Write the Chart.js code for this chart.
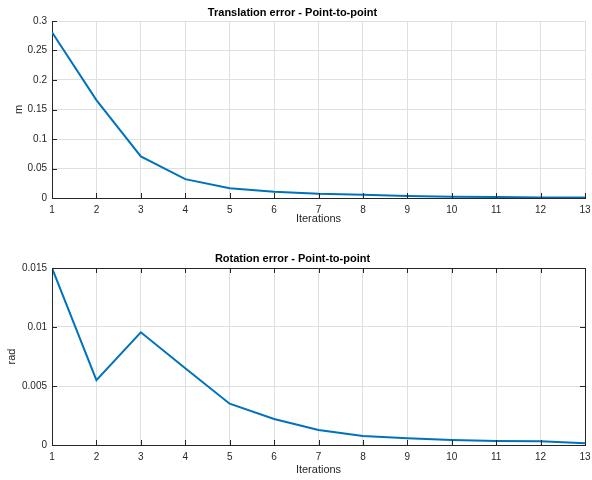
<!DOCTYPE html>
<html>
<head>
<meta charset="utf-8">
<script src="https://cdn.jsdelivr.net/npm/chart.js@4"></script>
<style>
  html, body { margin: 0; padding: 0; background: #fff; }
  #wrap { position: relative; width: 592px; height: 480px; }
  .panel { position: absolute; left: 0; width: 592px; height: 240px; }
</style>
</head>
<body>
<div id="wrap">
  <div class="panel" style="top:0"><canvas id="c-trans" width="592" height="240"></canvas></div>
  <div class="panel" style="top:240px"><canvas id="c-rot" width="592" height="240"></canvas></div>
</div>
<script>
// Dades llegides del gràfic
const iteracions   = [1, 2, 3, 4, 5, 6, 7, 8, 9, 10, 11, 12, 13];
const errTraslacio = [0.281, 0.166, 0.0705, 0.032, 0.0165, 0.0105, 0.0072, 0.0056, 0.0036, 0.0022, 0.0017, 0.0010, 0.0008];
const errRotacio   = [0.0150, 0.0055, 0.00955, 0.0065, 0.0035, 0.0022, 0.00128, 0.00076, 0.00057, 0.00042, 0.00034, 0.00031, 0.00014];
const ticksTraslacio = [0, 0.05, 0.1, 0.15, 0.2, 0.25, 0.3];
const ticksRotacio   = [0, 0.005, 0.01, 0.015];

Chart.defaults.font.family = '"Liberation Sans", Arial, Helvetica, sans-serif';

const GRIS_EIX  = '#262626';
const GRIS_GRID = '#dfdfdf';
const BLAU      = '#0072BD';

function construirPanell(id, cfg) {
  const ctx = document.getElementById(id).getContext('2d');

  // Marques cap endins a l'estil MATLAB (i caixa opcional)
  const pluginEixos = {
    id: 'eixosMatlab',
    afterDraw(chart) {
      const { ctx, chartArea: a, scales: { x, y } } = chart;
      const L = 5;
      ctx.save();
      ctx.strokeStyle = GRIS_EIX;
      ctx.lineWidth = 1;
      ctx.beginPath();
      x.ticks.forEach(t => {
        const px = Math.round(x.getPixelForValue(t.value)) + 0.5;
        ctx.moveTo(px, a.bottom); ctx.lineTo(px, a.bottom - L);
        if (cfg.caixa) { ctx.moveTo(px, a.top); ctx.lineTo(px, a.top + L); }
      });
      y.ticks.forEach(t => {
        const py = Math.round(y.getPixelForValue(t.value)) + 0.5;
        ctx.moveTo(a.left, py); ctx.lineTo(a.left + L, py);
        if (cfg.caixa) { ctx.moveTo(a.right, py); ctx.lineTo(a.right - L, py); }
      });
      if (cfg.caixa) {
        const top = Math.round(a.top) + 0.5;
        const right = Math.round(a.right) + 0.5;
        ctx.moveTo(a.left, top); ctx.lineTo(right, top);
        ctx.moveTo(right, a.top); ctx.lineTo(right, a.bottom);
      }
      ctx.stroke();
      ctx.restore();
    }
  };

  const fmt = v => String(+Number(v).toFixed(4));

  new Chart(ctx, {
    type: 'line',
    data: {
      datasets: [{
        data: cfg.valors.map((v, i) => ({ x: iteracions[i], y: v })),
        borderColor: BLAU,
        backgroundColor: BLAU,
        borderWidth: 2,
        pointRadius: 0,
        tension: 0,
      }]
    },
    options: {
      responsive: false,
      animation: false,
      layout: { padding: { left: 0, right: 7, top: 0, bottom: 0 } },
      plugins: {
        legend: { display: false },
        tooltip: { enabled: false },
        title: {
          display: true,
          text: cfg.titol,
          color: '#000',
          font: { size: 11, weight: 'bold' },
          padding: { top: cfg.titolPadTop, bottom: cfg.titolPadBot },
        }
      },
      scales: {
        x: {
          type: 'linear',
          min: 1,
          max: 13,
          afterBuildTicks: s => { s.ticks = iteracions.map(v => ({ value: v })); },
          afterFit: s => { s.height = cfg.alcadaX; s.paddingLeft = 0; s.paddingRight = 0; },
          grid: { color: GRIS_GRID, drawTicks: false },
          border: { color: GRIS_EIX, width: 1 },
          ticks: { color: GRIS_EIX, font: { size: 10 }, padding: 6, maxRotation: 0, autoSkip: false, callback: fmt },
          title: {
            display: true,
            text: 'Iterations',
            color: GRIS_EIX,
            font: { size: 11 },
            padding: { top: 0, bottom: cfg.xTitolPadBot },
          }
        },
        y: {
          min: 0,
          max: cfg.ymax,
          afterBuildTicks: s => { s.ticks = cfg.ticksY.map(v => ({ value: v })); },
          afterFit: s => { s.width = 52; s.paddingTop = 0; s.paddingBottom = 0; },
          grid: { color: GRIS_GRID, drawTicks: false },
          border: { color: GRIS_EIX, width: 1 },
          ticks: { color: GRIS_EIX, font: { size: 10 }, padding: 5, callback: fmt },
          title: {
            display: true,
            text: cfg.unitat,
            color: GRIS_EIX,
            font: { size: 11 },
            padding: { top: cfg.yTitolPad, bottom: 0 },
          }
        }
      }
    },
    plugins: [pluginEixos]
  });
}

construirPanell('c-trans', {
  titol: 'Translation error - Point-to-point',
  unitat: 'm',
  valors: errTraslacio,
  ticksY: ticksTraslacio,
  ymax: 0.3,
  caixa: false,
  titolPadTop: 6,
  titolPadBot: 1.8,
  alcadaX: 42,
  xTitolPadBot: 14.4,
  yTitolPad: 12.4,
});

construirPanell('c-rot', {
  titol: 'Rotation error - Point-to-point',
  unitat: 'rad',
  valors: errRotacio,
  ticksY: ticksRotacio,
  ymax: 0.015,
  caixa: true,
  titolPadTop: 12.4,
  titolPadBot: 2.4,
  alcadaX: 35,
  xTitolPadBot: 3.4,
  yTitolPad: 5.4,
});
</script>
</body>
</html>
